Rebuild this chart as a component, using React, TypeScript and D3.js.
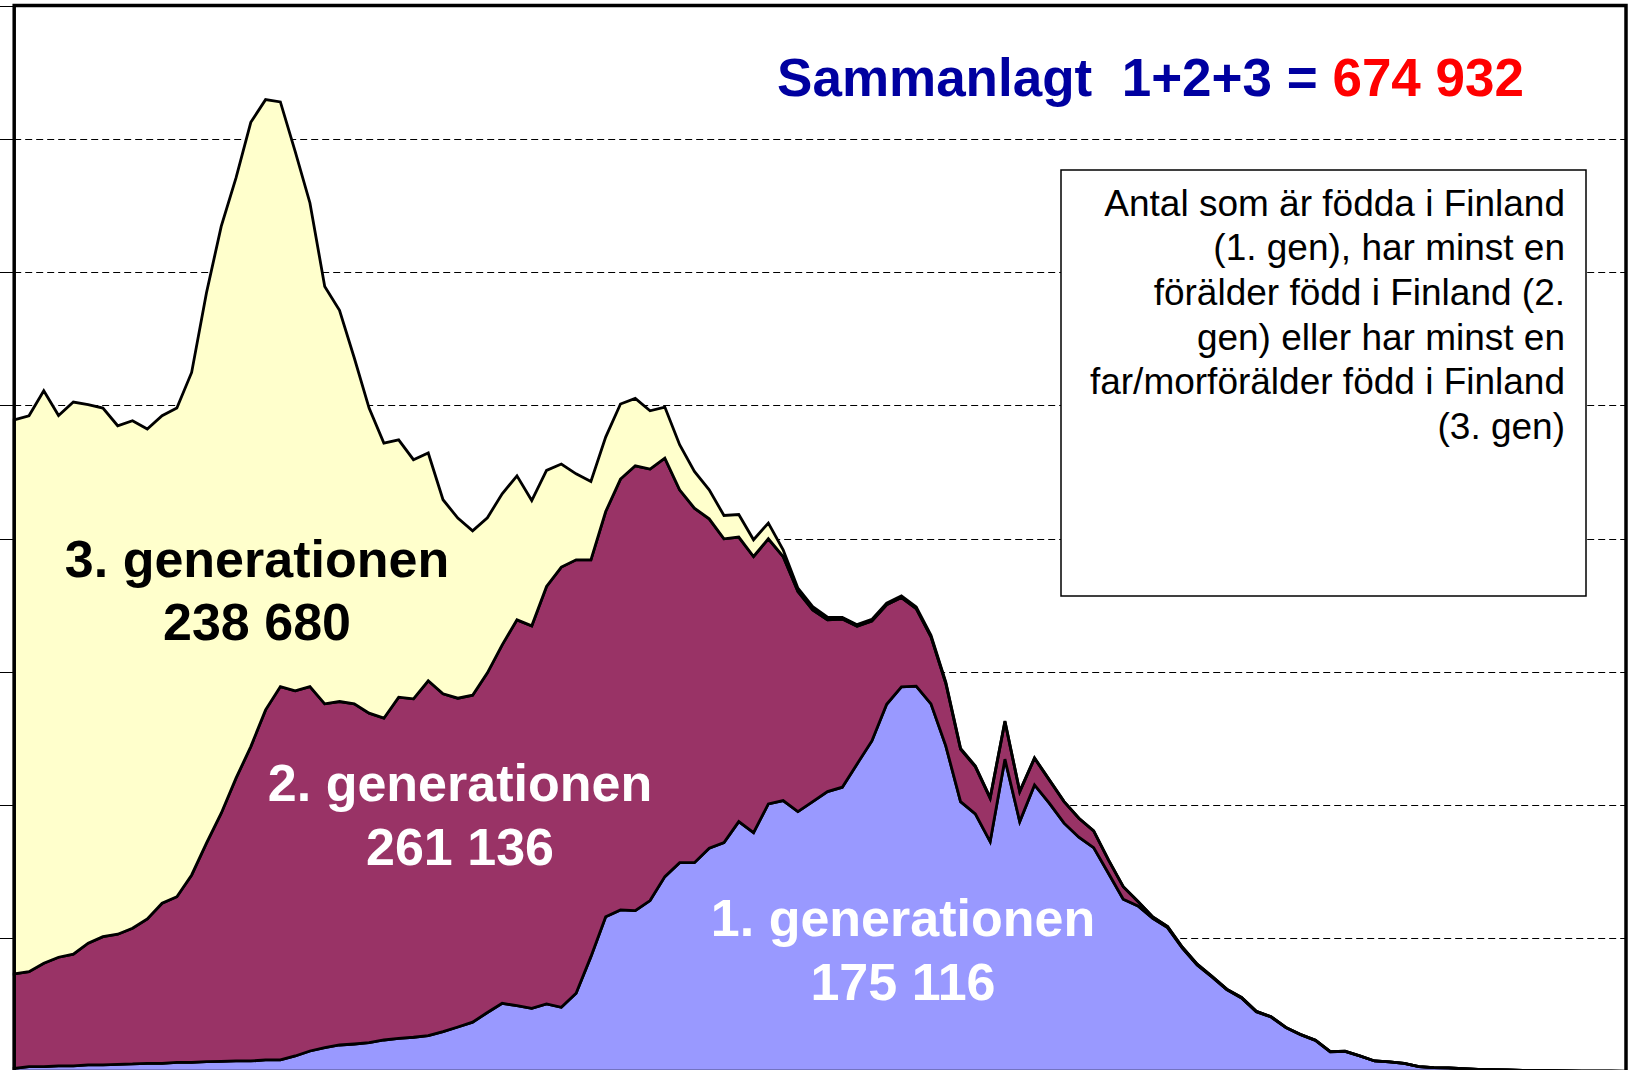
import * as d3 from 'd3'

// age groups 0..109 (no axis labels shown in the chart)
const ages = d3.range(110)

// 1. generationen – born in Finland
const gen1 = [
  48, 72, 72, 83, 83, 98, 98, 108, 113, 123,
  123, 138, 138, 147, 153, 158, 158, 173, 173, 233,
  308, 357, 398, 413, 432, 473, 498, 514, 538, 598,
  668, 740, 886, 1024, 988, 949, 1014, 964, 1174, 1724,
  2324, 2425, 2414, 2565, 2925, 3135, 3135, 3351, 3435, 3751,
  3586, 4017, 4066, 3901, 4051, 4201, 4267, 4617, 4962, 5511,
  5773, 5784, 5518, 4887, 4051, 3866, 3450, 4688, 3751, 4302,
  4027, 3727, 3516, 3360, 2976, 2586, 2485, 2300, 2159, 1850,
  1599, 1419, 1228, 1104, 898, 818, 658, 553, 468, 297,
  303, 233, 158, 143, 123, 72, 57, 53, 42, 33,
  28, 23, 18, 15, 12, 9, 7, 5, 4, 3,
]

// 2. generationen – at least one parent born in Finland
const gen2 = [
  1416, 1426, 1553, 1632, 1677, 1827, 1926, 1952, 2038, 2167,
  2402, 2486, 2812, 3279, 3724, 4245, 4719, 5255, 5605, 5480,
  5470, 5161, 5155, 5105, 4946, 4830, 5120, 5080, 5326, 5071,
  4935, 4908, 5098, 5380, 5791, 5740, 6266, 6607, 6506, 5956,
  6081, 6467, 6677, 6477, 6282, 5596, 5321, 4944, 4560, 4270,
  4144, 3979, 3664, 3303, 2878, 2578, 2523, 2065, 1799, 1494,
  1341, 1164, 1006, 941, 787, 710, 652, 565, 450, 401,
  350, 324, 285, 251, 200, 189, 65, 20, 18, 15,
  12, 10, 8, 7, 6, 5, 4, 3, 3, 2,
  2, 1, 0, 0, 0, 0, 0, 0, 0, 0,
  0, 0, 0, 0, 0, 0, 0, 0, 0, 0,
]

// 3. generationen – at least one grandparent born in Finland
const gen3 = [
  8318, 8344, 8593, 8132, 8288, 8083, 7934, 7632, 7617, 7353,
  7317, 7333, 7542, 8258, 8808, 9009, 9369, 9159, 8775, 8098,
  7258, 6266, 5871, 5191, 4580, 4129, 3863, 3589, 3419, 2913,
  2703, 2467, 2327, 2267, 2162, 1881, 1742, 1547, 1291, 1176,
  1117, 1126, 1011, 875, 766, 676, 550, 435, 350, 339,
  251, 236, 101, 51, 50, 41, 25, 25, 25, 25,
  25, 25, 25, 15, 12, 10, 8, 6, 5, 4,
  3, 0, 0, 0, 0, 0, 0, 0, 0, 0,
  0, 0, 0, 0, 0, 0, 0, 0, 0, 0,
  0, 0, 0, 0, 0, 0, 0, 0, 0, 0,
  0, 0, 0, 0, 0, 0, 0, 0, 0, 0,
]

const yTicks = [0, 2000, 4000, 6000, 8000, 10000, 12000, 14000, 16000]

const seriesKeys = ['g1', 'g2', 'g3']
const colors = { g1: '#9999FF', g2: '#993366', g3: '#FFFFCC' }

const boxLines = [
  'Antal som är födda i Finland',
  '(1. gen), har minst en',
  'förälder född i Finland (2.',
  'gen) eller har minst en',
  'far/morförälder född i Finland',
  '(3. gen)',
]

const font = '"Liberation Sans", Arial, Helvetica, sans-serif'

export default function App() {
  const width = 1635, height = 1070
  const left = 14.2, right = 1626, top = 5.5, bottom = 1071.5

  const x = d3.scaleLinear().domain([0, ages.length - 1]).range([left, right])
  const y = d3.scaleLinear().domain([0, 16000]).range([bottom, top])
  const crisp = (v: number) => Math.round(v) + 0.5

  const rows = ages.map((a, i) => ({ age: a, g1: gen1[i], g2: gen2[i], g3: gen3[i] }))
  const stacked = d3.stack<any>().keys(seriesKeys)(rows)

  const area = d3.area<any>()
    .x((d, i) => x(i))
    .y0(d => y(d[0]))
    .y1(d => y(d[1]))

  return (
    <svg width={width} height={height}
      style={{ position: 'absolute', left: 0, top: 0, background: '#fff' }}>
      {/* dashed gridlines */}
      {yTicks.slice(1).map(t => (
        <line key={'g' + t} x1={left} x2={right} y1={crisp(y(t))} y2={crisp(y(t))}
          stroke="#000" strokeWidth={1} strokeDasharray="7,4" />
      ))}
      {/* left tick marks */}
      {yTicks.map(t => (
        <line key={'t' + t} x1={0} x2={left} y1={crisp(y(t))} y2={crisp(y(t))} stroke="#000" strokeWidth={1} />
      ))}

      {stacked.map(s => (
        <path key={s.key} d={area(s) || ''} fill={colors[s.key]}
          stroke="#000" strokeWidth={2.8} strokeLinejoin="miter" />
      ))}

      {/* plot frame */}
      <rect x={left} y={top} width={right - left} height={bottom - top}
        fill="none" stroke="#000" strokeWidth={3.5} />

      {/* series labels */}
      <g fontFamily={font} fontWeight="bold" fontSize={52} textAnchor="middle">
        <text x={257} y={577} fill="#000">3. generationen</text>
        <text x={257} y={640} fill="#000">238 680</text>
        <text x={460} y={801} fill="#fff">2. generationen</text>
        <text x={460} y={865} fill="#fff">261 136</text>
        <text x={903} y={936} fill="#fff">1. generationen</text>
        <text x={903} y={1000} fill="#fff">175 116</text>
      </g>

      {/* title */}
      <text x={1524} y={96} textAnchor="end" fontFamily={font} fontWeight="bold"
        fontSize={53} style={{ whiteSpace: 'pre' }}>
        <tspan fill="#0000A0">{'Sammanlagt  1+2+3 = '}</tspan>
        <tspan fill="#FF0000">674 932</tspan>
      </text>

      {/* explanation box */}
      <rect x={1061} y={170} width={525} height={426} fill="#fff" stroke="#000" strokeWidth={1.5} />
      <g fontFamily={font} fontSize={37} textAnchor="end" fill="#000">
        {boxLines.map((l, i) => (
          <text key={i} x={1565} y={215.5 + i * 44.7}>{l}</text>
        ))}
      </g>
    </svg>
  )
}
